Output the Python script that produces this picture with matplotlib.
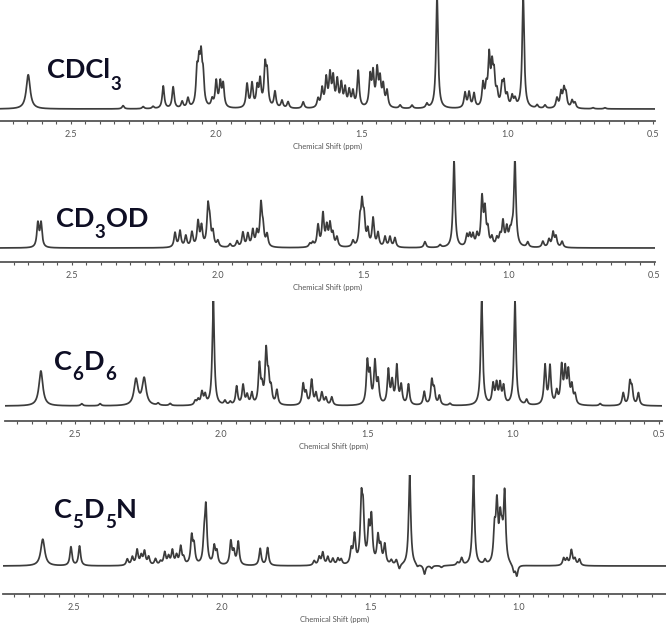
import numpy as np
import matplotlib
matplotlib.use("Agg")
import matplotlib.pyplot as plt
from matplotlib.ticker import FixedLocator, MultipleLocator, FormatStrFormatter

W, H = 666, 627

solvents = ["CDCl3", "CD3OD", "C6D6", "C5D5N"]
major_ticks = [2.5, 2.0, 1.5, 1.0, 0.5]
xlabel_text = "Chemical Shift (ppm)"

# peak lists (ppm, relative intensity)
cdcl3_ppm = [2.646, 2.320, 2.251, 2.217, 2.182, 2.148, 2.117, 2.097,
             2.066, 2.059, 2.052, 2.045, 2.014, 2.000, 1.986, 1.976,
             1.894, 1.877, 1.859, 1.849, 1.832, 1.825, 1.798, 1.774,
             1.753, 1.701, 1.650, 1.636, 1.622, 1.609, 1.598, 1.584,
             1.570, 1.557, 1.543, 1.530, 1.512, 1.471, 1.461, 1.447,
             1.437, 1.426, 1.413, 1.368, 1.327, 1.276, 1.241, 1.145,
             1.131, 1.114, 1.083, 1.072, 1.062, 1.052, 1.045, 1.035,
             1.018, 1.011, 1.000, 0.983, 0.973, 0.945, 0.897, 0.870,
             0.829, 0.815, 0.805, 0.798, 0.777, 0.767, 0.705, 0.664]
cdcl3_int = [0.32, 0.03, 0.02, 0.02, 0.21, 0.20, 0.06, 0.09,
             0.30, 0.33, 0.40, 0.26, 0.07, 0.24, 0.22, 0.21,
             0.22, 0.22, 0.18, 0.24, 0.36, 0.29, 0.15, 0.07,
             0.06, 0.06, 0.08, 0.17, 0.26, 0.29, 0.26, 0.24,
             0.21, 0.17, 0.15, 0.14, 0.34, 0.28, 0.30, 0.33,
             0.24, 0.19, 0.15, 0.03, 0.03, 0.04, 1.05, 0.14,
             0.14, 0.13, 0.21, 0.16, 0.45, 0.33, 0.26, 0.12,
             0.18, 0.20, 0.10, 0.10, 0.07, 1.05, 0.03, 0.03,
             0.09, 0.14, 0.16, 0.12, 0.07, 0.05, 0.01, 0.01]

cd3od_ppm = [2.617, 2.606, 2.146, 2.129, 2.109, 2.088, 2.067, 2.055,
             2.033, 2.027, 2.016, 1.999, 1.957, 1.933, 1.913, 1.896,
             1.879, 1.865, 1.851, 1.844, 1.830, 1.683, 1.673, 1.655,
             1.638, 1.625, 1.614, 1.604, 1.590, 1.535, 1.511, 1.504,
             1.497, 1.484, 1.466, 1.449, 1.425, 1.408, 1.391, 1.288,
             1.236, 1.188, 1.144, 1.134, 1.123, 1.109, 1.092, 1.082,
             1.072, 1.058, 1.041, 1.030, 1.020, 1.007, 0.996, 0.989,
             0.979, 0.935, 0.883, 0.862, 0.848, 0.838, 0.817]
cd3od_int = [0.28, 0.28, 0.17, 0.19, 0.13, 0.17, 0.29, 0.23,
             0.44, 0.25, 0.16, 0.07, 0.04, 0.07, 0.17, 0.15,
             0.19, 0.16, 0.48, 0.20, 0.14, 0.04, 0.05, 0.25,
             0.38, 0.22, 0.25, 0.14, 0.11, 0.07, 0.27, 0.44,
             0.30, 0.18, 0.33, 0.16, 0.12, 0.12, 0.11, 0.07,
             0.03, 1.02, 0.13, 0.13, 0.13, 0.13, 0.55, 0.40,
             0.18, 0.10, 0.09, 0.11, 0.28, 0.20, 0.13, 0.13,
             1.02, 0.06, 0.07, 0.09, 0.17, 0.12, 0.07]

c6d6_ppm = [2.618, 2.478, 2.415, 2.292, 2.264, 2.216, 2.175, 2.089,
            2.079, 2.066, 2.055, 2.027, 1.987, 1.969, 1.947, 1.925,
            1.911, 1.895, 1.869, 1.860, 1.846, 1.838, 1.829, 1.809,
            1.719, 1.709, 1.690, 1.675, 1.655, 1.641, 1.621, 1.499,
            1.490, 1.473, 1.462, 1.427, 1.414, 1.398, 1.383, 1.358,
            1.304, 1.278, 1.270, 1.252, 1.216, 1.107, 1.068, 1.056,
            1.044, 1.032, 0.993, 0.953, 0.890, 0.873, 0.850, 0.833,
            0.821, 0.810, 0.798, 0.787, 0.701, 0.622, 0.599, 0.592,
            0.570]
c6d6_int = [0.34, 0.02, 0.02, 0.25, 0.26, 0.02, 0.02, 0.04,
            0.05, 0.12, 0.09, 1.02, 0.04, 0.03, 0.18, 0.19,
            0.09, 0.11, 0.38, 0.14, 0.50, 0.23, 0.14, 0.14,
            0.20, 0.11, 0.24, 0.11, 0.12, 0.07, 0.08, 0.40,
            0.27, 0.40, 0.21, 0.33, 0.21, 0.37, 0.18, 0.20,
            0.13, 0.23, 0.14, 0.09, 0.02, 1.02, 0.19, 0.19,
            0.19, 0.17, 1.02, 0.05, 0.38, 0.37, 0.12, 0.36,
            0.32, 0.30, 0.17, 0.09, 0.02, 0.12, 0.21, 0.15,
            0.12]

c5d5n_ppm = [2.604, 2.509, 2.480, 2.319, 2.302, 2.286, 2.272, 2.261,
             2.247, 2.224, 2.207, 2.193, 2.180, 2.167, 2.153, 2.139,
             2.129, 2.102, 2.094, 2.060, 2.054, 2.026, 2.017, 1.970,
             1.960, 1.945, 1.871, 1.846, 1.689, 1.672, 1.660, 1.643,
             1.626, 1.609, 1.598, 1.564, 1.553, 1.530, 1.524, 1.505,
             1.496, 1.474, 1.465, 1.451, 1.429, 1.412, 1.402, 1.367,
             1.341, 1.317, 1.293, 1.260, 1.206, 1.192, 1.152, 1.113,
             1.081, 1.073, 1.062, 1.056, 1.047, 1.016, 1.006, 0.848,
             0.837, 0.822, 0.810, 0.795]
c5d5n_int = [0.30, 0.21, 0.22, 0.07, 0.09, 0.17, 0.10, 0.15,
             0.09, 0.07, 0.04, 0.14, 0.09, 0.16, 0.10, 0.20,
             0.07, 0.31, 0.20, 0.25, 0.62, 0.20, 0.14, 0.26,
             0.14, 0.26, 0.19, 0.20, 0.05, 0.09, 0.14, 0.09,
             0.07, 0.07, 0.06, 0.16, 0.32, 0.66, 0.52, 0.38,
             0.50, 0.30, 0.18, 0.22, 0.05, 0.06, -0.06, 1.02,
             -0.03, -0.10, -0.03, -0.02, 0.03, 0.08, 1.02, 0.05,
             0.36, 0.63, 0.43, 0.23, 0.78, -0.08, -0.12, 0.08,
             0.07, 0.17, 0.07, 0.07]

spectra = {
    "CDCl3": (cdcl3_ppm, cdcl3_int),
    "CD3OD": (cd3od_ppm, cd3od_int),
    "C6D6": (c6d6_ppm, c6d6_int),
    "C5D5N": (c5d5n_ppm, c5d5n_int),
}
# lines that are visibly broader than the rest
broad_peaks = {"CDCl3": [2.646], "CD3OD": [], "C6D6": [2.618, 2.292, 2.264],
               "C5D5N": [2.604]}

# solvent names split into (text, is_subscript)
name_parts = {
    "CDCl3": [("CDCl", False), ("3", True)],
    "CD3OD": [("CD", False), ("3", True), ("OD", False)],
    "C6D6": [("C", False), ("6", True), ("D", False), ("6", True)],
    "C5D5N": [("C", False), ("5", True), ("D", False), ("5", True), ("N", False)],
}

# panel layout in pixels: left, right, axis line y, baseline y, peak top y, xlim,
# name = (x, text baseline y, subscript drop)
layout = {
    "CDCl3": dict(l=0, r=655, axis=121, base=109, top=2, xlim=(2.743, 0.492), name=(47, 78, 12)),
    "CD3OD": dict(l=0, r=655, axis=262, base=248, top=163, xlim=(2.747, 0.498), name=(56, 227, 11)),
    "C6D6": dict(l=5, r=662, axis=421, base=406, top=303, xlim=(2.741, 0.489), name=(54, 370, 10)),
    "C5D5N": dict(l=3, r=666, axis=594, base=566, top=477, xlim=(2.738, 0.503), name=(54, 518, 10)),
}

plt.rcParams["font.family"] = ["Lato", "DejaVu Sans"]
fig = plt.figure(figsize=(W / 100, H / 100), dpi=100)
fig.patch.set_facecolor("white")

line_col = "#3c3c3c"
axis_col = "#555555"
name_col = "#0e0e24"


def spectrum(x, ppm, amp, wide):
    y = np.zeros_like(x)
    for p, a in zip(ppm, amp):
        w = 0.008 if p in wide else 0.0042
        y += a / (1 + ((x - p) / w) ** 2)
    return y


for s in solvents:
    g = layout[s]
    ppm, amp = spectra[s]
    unit = g["base"] - g["top"]
    ax_top = max(g["top"] - 2, 0)
    ax = fig.add_axes([g["l"] / W, 1 - g["axis"] / H,
                       (g["r"] - g["l"]) / W, (g["axis"] - ax_top) / H])
    x = np.linspace(g["xlim"][0], g["xlim"][1], 6000)
    y = spectrum(x, ppm, amp, broad_peaks[s])
    ax.plot(x, y, color=line_col, lw=1.25)
    ax.set_xlim(*g["xlim"])
    ax.set_ylim(-(g["axis"] - g["base"]) / unit, (g["base"] - ax_top) / unit)
    for side in ["top", "left", "right"]:
        ax.spines[side].set_visible(False)
    ax.spines["bottom"].set_color(axis_col)
    ax.spines["bottom"].set_linewidth(1.3)
    ax.set_yticks([])
    ax.xaxis.set_major_locator(FixedLocator(major_ticks))
    ax.xaxis.set_major_formatter(FormatStrFormatter("%.1f"))
    ax.xaxis.set_minor_locator(MultipleLocator(0.05))
    ax.tick_params(axis="x", which="both", length=2.5, width=0.8,
                   color=axis_col, labelsize=6.5, labelcolor="#555555", pad=4)
    ax.set_xlabel(xlabel_text, fontsize=5.5, color="#555555", labelpad=2.5)
    ax.patch.set_alpha(0)

    # solvent name, subscripts dropped below the baseline
    fig.canvas.draw()
    renderer = fig.canvas.get_renderer()
    x0, yb, drop = g["name"]
    cx = x0
    for txt, sub in name_parts[s]:
        size = 13.5 if sub else 19.5
        yy = yb + (drop if sub else 0)
        t = fig.text(cx / W, 1 - yy / H, txt, fontsize=size, fontweight="bold",
                     color=name_col, ha="left", va="baseline")
        bb = t.get_window_extent(renderer)
        cx += bb.width + 0.5

fig.savefig("out.png", dpi=100)
